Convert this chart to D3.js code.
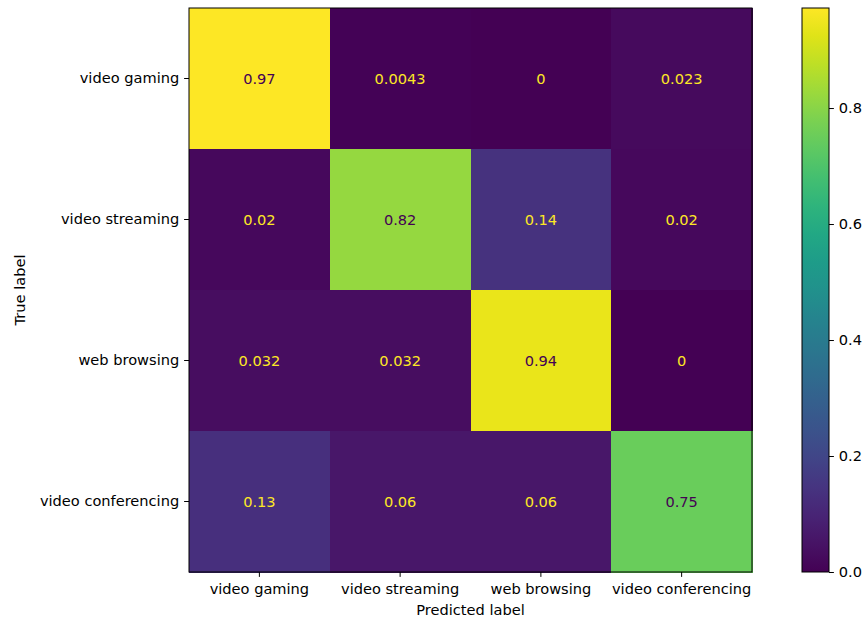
<!DOCTYPE html>
<html>
<head>
<meta charset="utf-8">
<script src="https://cdn.jsdelivr.net/npm/d3@7"></script>
<style>
  html, body { margin: 0; padding: 0; background: #fff; }
  svg text { font-family: "DejaVu Sans", sans-serif; }
</style>
</head>
<body>
<svg id="chart" width="865" height="619"></svg>
<script>
// Class names for rows (true) and columns (predicted)
const trueLabels = ["video gaming", "video streaming", "web browsing", "video conferencing"];
const predLabels = ["video gaming", "video streaming", "web browsing", "video conferencing"];

// Normalized confusion matrix rows
const rowVideoGaming      = [0.9725, 0.0043, 0, 0.023];
const rowVideoStreaming   = [0.02, 0.82, 0.14, 0.02];
const rowWebBrowsing      = [0.032, 0.032, 0.94, 0];
const rowVideoConferencing = [0.13, 0.06, 0.06, 0.75];
const matrix = [rowVideoGaming, rowVideoStreaming, rowWebBrowsing, rowVideoConferencing];

// Text shown in each cell
const cellText = [
  ["0.97", "0.0043", "0", "0.023"],
  ["0.02", "0.82", "0.14", "0.02"],
  ["0.032", "0.032", "0.94", "0"],
  ["0.13", "0.06", "0.06", "0.75"]
];

const colorbarTicks = [0.0, 0.2, 0.4, 0.6, 0.8];

const svg = d3.select("#chart");
const fontSize = 14.6;

const plot = { left: 189, top: 8, right: 752, bottom: 572 };
const cbar = { left: 802, right: 829 };

const flat = matrix.flat();
const vmin = d3.min(flat), vmax = d3.max(flat);
const color = d3.scaleSequential(d3.interpolateViridis).domain([vmin, vmax]);

const x = d3.scaleBand().domain(predLabels).range([plot.left, plot.right]);
const y = d3.scaleBand().domain(trueLabels).range([plot.top, plot.bottom]);

// Heatmap cells
const cells = [];
matrix.forEach((row, i) => row.forEach((v, j) => cells.push({ i, j, v, t: cellText[i][j] })));

svg.append("g").attr("shape-rendering", "crispEdges")
  .selectAll("rect").data(cells).join("rect")
  .attr("x", d => x(predLabels[d.j]))
  .attr("y", d => y(trueLabels[d.i]))
  .attr("width", x.bandwidth() + 0.5)
  .attr("height", y.bandwidth() + 0.5)
  .attr("fill", d => color(d.v));

const threshold = (vmax + vmin) / 2;
svg.append("g").selectAll("text").data(cells).join("text")
  .attr("x", d => x(predLabels[d.j]) + x.bandwidth() / 2)
  .attr("y", d => y(trueLabels[d.i]) + y.bandwidth() / 2)
  .attr("text-anchor", "middle")
  .attr("dominant-baseline", "central")
  .attr("font-size", fontSize)
  .attr("fill", d => d.v < threshold ? color(vmax) : color(vmin))
  .text(d => d.t);

// Axes
const xAxis = svg.append("g")
  .attr("transform", `translate(0,${plot.bottom})`)
  .call(d3.axisBottom(x).tickSize(4.9).tickPadding(6.5));
const yAxis = svg.append("g")
  .attr("transform", `translate(${plot.left},0)`)
  .call(d3.axisLeft(y).tickSize(4.9).tickPadding(4.9));
[xAxis, yAxis].forEach(g => {
  g.select(".domain").remove();
  g.selectAll("text").attr("font-size", fontSize).attr("fill", "#000").attr("font-family", "DejaVu Sans, sans-serif");
  g.selectAll("line").attr("stroke", "#000").attr("stroke-width", 1);
});

svg.append("rect")
  .attr("x", plot.left).attr("y", plot.top)
  .attr("width", plot.right - plot.left).attr("height", plot.bottom - plot.top)
  .attr("fill", "none").attr("stroke", "#000").attr("stroke-width", 1);

svg.append("text")
  .attr("x", (plot.left + plot.right) / 2).attr("y", 615)
  .attr("text-anchor", "middle").attr("font-size", fontSize)
  .text("Predicted label");

svg.append("text")
  .attr("transform", `translate(25,${(plot.top + plot.bottom) / 2}) rotate(-90)`)
  .attr("text-anchor", "middle").attr("font-size", fontSize)
  .text("True label");

// Colorbar
const cy = d3.scaleLinear().domain([vmin, vmax]).range([plot.bottom, plot.top]);
const defs = svg.append("defs");
const grad = defs.append("linearGradient").attr("id", "cb")
  .attr("x1", 0).attr("y1", 1).attr("x2", 0).attr("y2", 0);
d3.range(0, 1.0001, 0.05).forEach(t => {
  grad.append("stop").attr("offset", t).attr("stop-color", d3.interpolateViridis(t));
});
svg.append("rect")
  .attr("x", cbar.left).attr("y", plot.top)
  .attr("width", cbar.right - cbar.left).attr("height", plot.bottom - plot.top)
  .attr("fill", "url(#cb)").attr("stroke", "#000").attr("stroke-width", 1);

const cAxis = svg.append("g")
  .attr("transform", `translate(${cbar.right},0)`)
  .call(d3.axisRight(cy).tickValues(colorbarTicks).tickFormat(d3.format(".1f")).tickSize(4.9).tickPadding(4.9));
cAxis.select(".domain").remove();
cAxis.selectAll("text").attr("font-size", fontSize).attr("fill", "#000").attr("font-family", "DejaVu Sans, sans-serif");
cAxis.selectAll("line").attr("stroke", "#000");
</script>
</body>
</html>
